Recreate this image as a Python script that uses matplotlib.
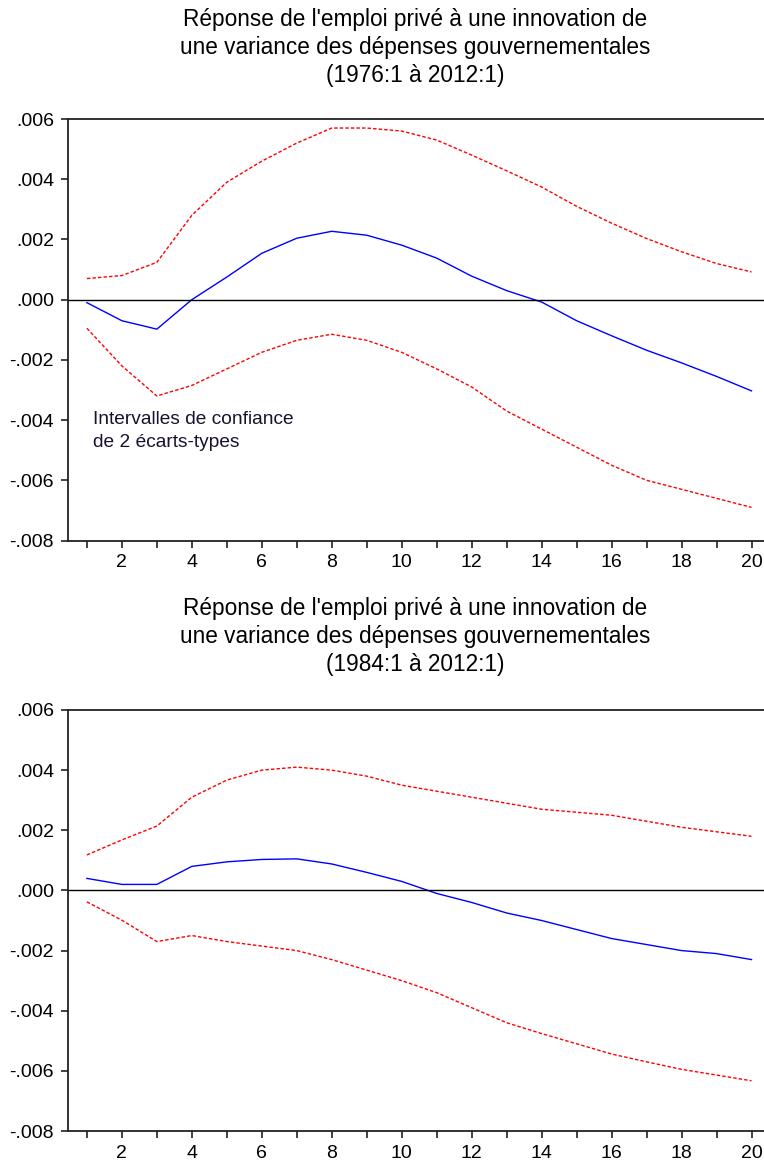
import matplotlib
matplotlib.use("Agg")
import matplotlib.pyplot as plt
from matplotlib.ticker import MultipleLocator, FuncFormatter

plt.rcParams["font.family"] = ["Liberation Sans", "DejaVu Sans"]

horizons = list(range(1, 21))

# 1976:1 a 2012:1
resp_76 = [-0.0001, -0.0007, -0.00098, 0.0000, 0.00075, 0.00154, 0.00204, 0.00227, 0.00214, 0.00181,
           0.00138, 0.00078, 0.0003, -0.00008, -0.0007, -0.0012, -0.00168, -0.0021, -0.00255, -0.00303]
upper_76 = [0.0007, 0.0008, 0.00124, 0.0028, 0.0039, 0.0046, 0.0052, 0.0057, 0.0057, 0.0056,
            0.0053, 0.0048, 0.00428, 0.00374, 0.0031, 0.00254, 0.00203, 0.00159, 0.0012, 0.00092]
lower_76 = [-0.00095, -0.0022, -0.0032, -0.00285, -0.0023, -0.00175, -0.00135, -0.00115, -0.00135, -0.00175,
            -0.0023, -0.0029, -0.0037, -0.0043, -0.0049, -0.0055, -0.006, -0.0063, -0.0066, -0.0069]

# 1984:1 a 2012:1
resp_84 = [0.0004, 0.0002, 0.0002, 0.0008, 0.00095, 0.00103, 0.00105, 0.00088, 0.0006, 0.0003,
           -0.0001, -0.0004, -0.00075, -0.001, -0.0013, -0.0016, -0.0018, -0.002, -0.0021, -0.0023]
upper_84 = [0.00118, 0.00168, 0.00214, 0.0031, 0.00367, 0.004, 0.0041, 0.004, 0.0038, 0.0035,
            0.0033, 0.0031, 0.0029, 0.0027, 0.0026, 0.0025, 0.0023, 0.0021, 0.00195, 0.0018]
lower_84 = [-0.00038, -0.00099, -0.0017, -0.0015, -0.0017, -0.00185, -0.002, -0.0023, -0.00265, -0.003,
            -0.0034, -0.0039, -0.0044, -0.00476, -0.0051, -0.00544, -0.0057, -0.00595, -0.00614, -0.00633]

titles = [
    "Réponse de l'emploi privé à une innovation de\nune variance des dépenses gouvernementales\n(1976:1 à 2012:1)",
    "Réponse de l'emploi privé à une innovation de\nune variance des dépenses gouvernementales\n(1984:1 à 2012:1)",
]
note = "Intervalles de confiance\nde 2 écarts-types"


def fmt(v, pos):
    s = "%.3f" % v
    s = s.replace("0.", ".")
    if s == "-.000":
        s = ".000"
    return s


W, H = 764, 1167
fig = plt.figure(figsize=(W / 100, H / 100), dpi=100)

panels = [
    (119, 540.5, 8, resp_76, upper_76, lower_76),
    (710, 1131, 597, resp_84, upper_84, lower_84),
]

for i, (top, bot, title_y, resp, up, lo) in enumerate(panels):
    ax = fig.add_axes([68 / W, 1 - bot / H, 701 / W, (bot - top) / H])
    ax.plot(horizons, up, color="red", lw=1, dashes=(2.5, 1.5))
    ax.plot(horizons, lo, color="red", lw=1, dashes=(2.5, 1.5))
    ax.plot(horizons, resp, color="blue", lw=1)
    ax.axhline(0, color="black", lw=1)
    ax.set_xlim(0.46, 20.5)
    ax.set_ylim(-0.008, 0.006)
    ax.xaxis.set_major_locator(MultipleLocator(2))
    ax.xaxis.set_minor_locator(MultipleLocator(1))
    ax.yaxis.set_major_locator(MultipleLocator(0.002))
    ax.yaxis.set_major_formatter(FuncFormatter(fmt))
    ax.spines["right"].set_visible(False)
    for s in ["left", "bottom", "top"]:
        ax.spines[s].set_linewidth(1.3)
        ax.spines[s].set_color("#222222")
    ax.tick_params(axis="both", which="both", direction="out", labelsize=14,
                   colors="#222222", labelcolor="black")
    ax.tick_params(axis="x", which="major", length=5, width=1.2, pad=5)
    ax.tick_params(axis="x", which="minor", length=5, width=1.2)
    ax.tick_params(axis="y", length=5, width=1.2, pad=5)
    fig.text(415 / W, 1 - title_y / H, titles[i], ha="center", va="top",
             fontsize=16.3, linespacing=1.29)
    if i == 0:
        ax.text(1.17, -0.00435, note, fontsize=13.8, va="center", ha="left",
                linespacing=1.45, color="#1a1030")

fig.savefig("out.png", dpi=100)
